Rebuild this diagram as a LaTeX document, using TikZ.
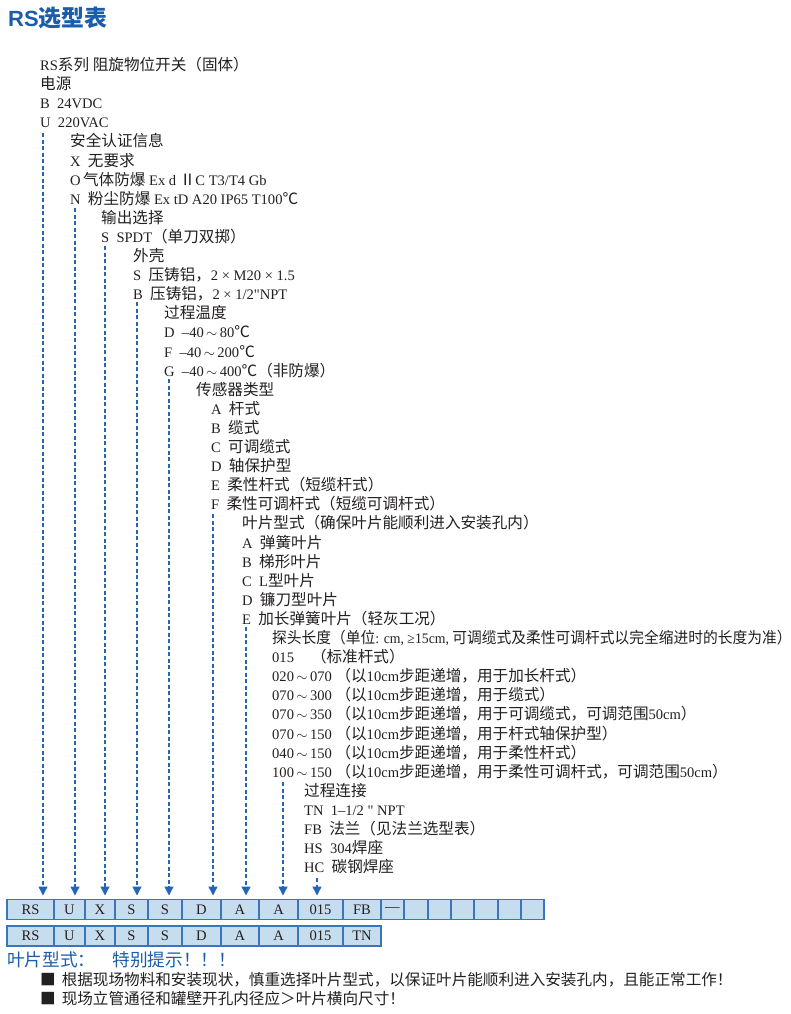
\documentclass[tikz,border=0pt]{standalone}
\usepackage{fontspec}
\usepackage{graphicx}
\setmainfont{Liberation Serif}[Scale=0.97]
\newfontfamily\latinfont{Liberation Serif}[Scale=0.97]
\newfontfamily\titlesans{Liberation Sans}
\newfontfamily\cjk{Noto Sans CJK SC}[Scale=1.04]
\usetikzlibrary{positioning,arrows.meta}
\definecolor{rsBlue}{HTML}{1A5DAB}
\definecolor{rsArrow}{HTML}{2466B5}
\definecolor{rsCell}{HTML}{C6DDEE}
\definecolor{rsFrame}{HTML}{3A76C0}
\definecolor{rsText}{HTML}{231F20}
\XeTeXinterchartokenstate=1
\newXeTeXintercharclass\cjkclass
\newcount\cjkcount
\newcommand\cjkrange[2]{\cjkcount=#1 \loop\XeTeXcharclass\cjkcount=\cjkclass \ifnum\cjkcount<#2 \advance\cjkcount by 1 \repeat}
\cjkrange{"4E00}{"9FFF}
\cjkrange{"3000}{"303F}
\cjkrange{"FF00}{"FFEF}
\XeTeXcharclass"2103=\cjkclass
\XeTeXcharclass"2161=\cjkclass
\XeTeXcharclass"25A0=\cjkclass
\XeTeXinterchartoks 0 \cjkclass={\cjk}
\XeTeXinterchartoks 4095 \cjkclass={\cjk}
\XeTeXinterchartoks \cjkclass 0={\latinfont}
\XeTeXinterchartoks \cjkclass 4095={\latinfont}
\begin{document}
\begin{tikzpicture}[x=1pt, y=-1pt,
  ln/.style={anchor=base west, inner sep=0pt, text=rsText, font=\fontsize{15}{18}\selectfont},
  cell/.style={draw=rsFrame, fill=rsCell, line width=1.2pt, anchor=west, inner sep=0pt, outer sep=0pt, minimum height=20pt, text=rsText, font=\fontsize{15}{18}\selectfont},
  flow/.style={rsArrow, line width=1.3pt, dash pattern=on 4pt off 2.5pt, shorten >=4pt, -{Triangle[width=9pt,length=9pt]}}]
\useasboundingbox (0,0) rectangle (790,1014);
\node[anchor=base west, inner sep=0pt, text=rsBlue, font=\bfseries\fontsize{22}{26}\selectfont] (title) at (8,26.7) {{\titlesans RS}{\cjk 选型表}};

\node[ln] (ser) at (40,70.5) {RS系列 阻旋物位开关（固体）};
\node[ln] (pwr) at (40,89.6) {电源};
\node[ln] (pwrB) at (40,108.7) {B\enspace 24VDC};
\node[ln] (pwrU) at (40,127.8) {U\enspace 220VAC};
\node[ln] (cert) at (70,146.9) {安全认证信息};
\node[ln] (certX) at (70,166) {X\enspace 无要求};
\node[ln] (certO) at (70,185.1) {O\,气体防爆 Ex d ⅡC T3/T4 Gb};
\node[ln] (certN) at (70,204.2) {N\enspace 粉尘防爆 Ex tD A20 IP65 T100℃};
\node[ln] (out) at (101,223.3) {输出选择};
\node[ln] (outS) at (101,242.4) {S\enspace SPDT（单刀双掷）};
\node[ln] (hous) at (133,261.5) {外壳};
\node[ln] (housS) at (133,280.6) {S\enspace 压铸铝，2 × M20 × 1.5};
\node[ln] (housB) at (133,299.7) {B\enspace 压铸铝，2 × 1/2\textquotedbl NPT};
\node[ln] (temp) at (164,318.8) {过程温度};
\node[ln] (tempD) at (164,337.9) {D\enspace –40\,$\sim$\,80℃};
\node[ln] (tempF) at (164,357) {F\enspace –40\,$\sim$\,200℃};
\node[ln] (tempG) at (164,376.1) {G\enspace –40\,$\sim$\,400℃（非防爆）};
\node[ln] (sens) at (196,395.2) {传感器类型};
\node[ln] (sensA) at (211,414.3) {A\enspace 杆式};
\node[ln] (sensB) at (211,433.4) {B\enspace 缆式};
\node[ln] (sensC) at (211,452.5) {C\enspace 可调缆式};
\node[ln] (sensD) at (211,471.6) {D\enspace 轴保护型};
\node[ln] (sensE) at (211,490.7) {E\enspace 柔性杆式（短缆杆式）};
\node[ln] (sensF) at (211,509.8) {F\enspace 柔性可调杆式（短缆可调杆式）};
\node[ln] (blade) at (242,528.9) {叶片型式（确保叶片能顺利进入安装孔内）};
\node[ln] (bladeA) at (242,548) {A\enspace 弹簧叶片};
\node[ln] (bladeB) at (242,567.1) {B\enspace 梯形叶片};
\node[ln] (bladeC) at (242,586.2) {C\enspace L型叶片};
\node[ln] (bladeD) at (242,605.3) {D\enspace 镰刀型叶片};
\node[ln] (bladeE) at (242,624.4) {E\enspace 加长弹簧叶片（轻灰工况）};
\node[ln] (len) at (272,643.5) {\scalebox{0.945}[1]{探头长度（单位: cm, ≥15cm, 可调缆式及柔性可调杆式以完全缩进时的长度为准）}};
\node[ln] (lenA) at (272,662.6) {015\hspace{17pt}（标准杆式）};
\node[ln] (lenB) at (272,681.7) {020\,$\sim$\,070 （以10cm步距递增，用于加长杆式）};
\node[ln] (lenC) at (272,700.8) {070\,$\sim$\,300 （以10cm步距递增，用于缆式）};
\node[ln] (lenD) at (272,719.9) {070\,$\sim$\,350 （以10cm步距递增，用于可调缆式，可调范围50cm）};
\node[ln] (lenE) at (272,739) {070\,$\sim$\,150 （以10cm步距递增，用于杆式轴保护型）};
\node[ln] (lenF) at (272,758.1) {040\,$\sim$\,150 （以10cm步距递增，用于柔性杆式）};
\node[ln] (lenG) at (272,777.2) {100\,$\sim$\,150 （以10cm步距递增，用于柔性可调杆式，可调范围50cm）};
\node[ln] (conn) at (304,796.3) {过程连接};
\node[ln] (connTN) at (304,815.4) {TN\enspace 1–1/2 \textquotedbl\ NPT};
\node[ln] (connFB) at (304,834.5) {FB\enspace 法兰（见法兰选型表）};
\node[ln] (connHS) at (304,853.6) {HS\enspace 304焊座};
\node[ln] (connHC) at (304,872.7) {HC\enspace 碳钢焊座};

\coordinate (a0) at (7,909.5);
\foreach \w/\t [count=\i, remember=\i as \j (initially 0)] in {47/RS, 31/U, 30/X, 33/S, 34/S, 39/D, 38/A, 39/A, 45/015, 38/FB, 23/—, 24/{}, 23/{}, 23/{}, 24/{}, 23/{}, 23/{}}
  \node[cell, minimum width=\w pt] (a\i) at (a\j.east) {\t};
\coordinate (b0) at (7,936);
\foreach \w/\t [count=\i, remember=\i as \j (initially 0)] in {47/RS, 31/U, 30/X, 33/S, 34/S, 39/D, 38/A, 39/A, 45/015, 38/TN}
  \node[cell, minimum width=\w pt] (b\i) at (b\j.east) {\t};

\foreach \n/\x/\y in {1/43/133, 2/75/208, 3/105/246, 4/137/302, 5/169/379, 6/213/514, 7/246/627, 8/283/782, 9/317/878}{
  \coordinate (s\n) at (\x,\y);
  \draw[flow] (s\n) -- (s\n |- a1.north);
}

\node[anchor=base west, inner sep=0pt, text=rsBlue, font=\fontsize{17}{20}\selectfont] (tip) at (7,966.5) {叶片型式：\hspace{17pt}特别提示！！！};
\node[ln] (tipA) at (40,985.5) {■\hspace{6pt}根据现场物料和安装现状，慎重选择叶片型式，以保证叶片能顺利进入安装孔内，且能正常工作！};
\node[ln] (tipB) at (40,1004) {■\hspace{6pt}现场立管通径和罐壁开孔内径应＞叶片横向尺寸！};
\end{tikzpicture}
\end{document}
